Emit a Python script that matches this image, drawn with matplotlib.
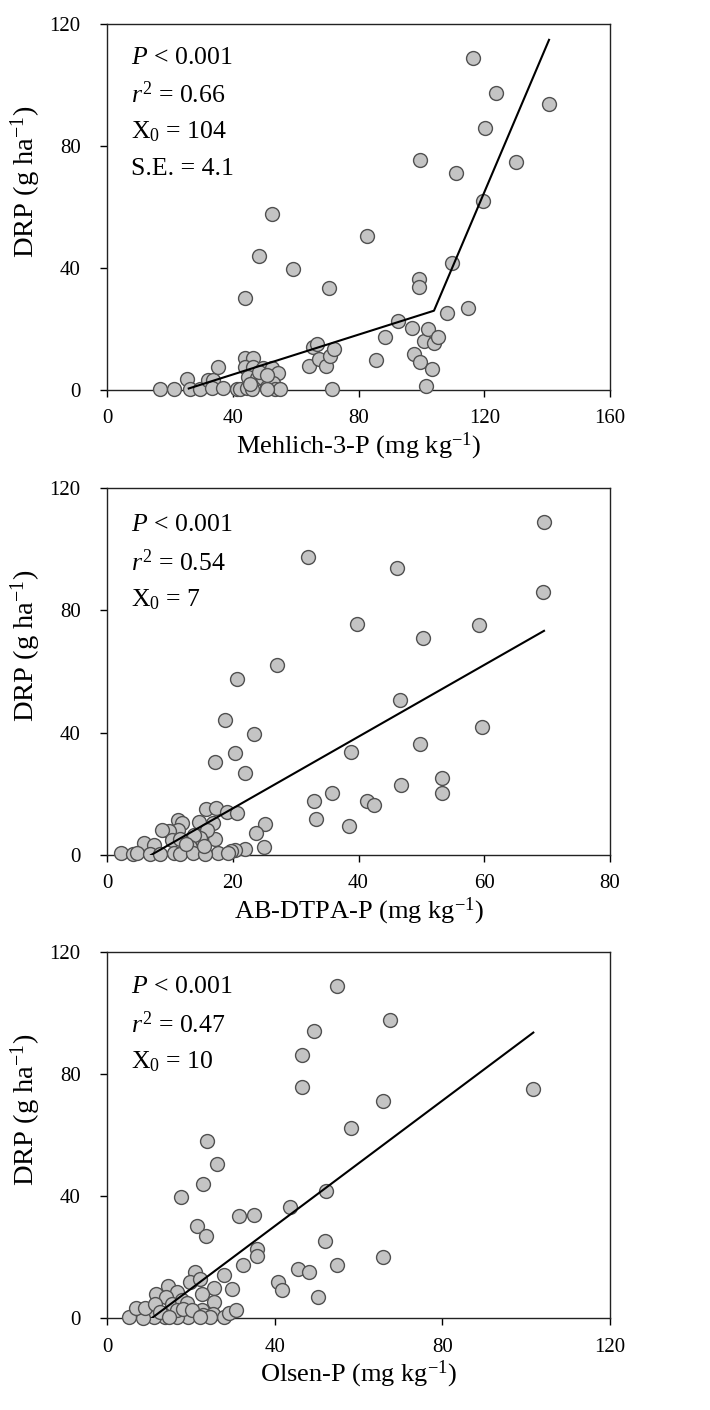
import numpy as np
import matplotlib
matplotlib.use("Agg")
import matplotlib.pyplot as plt

plt.rcParams['font.family'] = ['Liberation Serif', 'DejaVu Serif']
plt.rcParams['mathtext.fontset'] = 'custom'
plt.rcParams['mathtext.rm'] = 'Liberation Serif'
plt.rcParams['mathtext.it'] = 'Liberation Serif:italic'

# --- panel 1: Mehlich-3-P vs DRP ---
m3_x = [17.0, 21.3, 25.5, 26.4, 29.6, 32.2, 33.8, 33.3, 35.4, 36.8, 41.2, 42.3,
        43.9, 46.5, 43.9, 46.5, 49.7, 52.4, 54.5, 44.9, 47.6, 49.7, 50.8, 52.9,
        53.4, 55.0, 44.4, 46.0, 50.8, 45.5, 48.2, 51.0,
        64.1, 65.4, 66.7, 67.4, 69.6, 70.9, 72.3, 71.6, 85.6, 88.4, 92.6, 97.1,
        97.7, 99.7, 100.9, 101.4, 102.2, 103.4, 103.9, 105.3, 108.0, 114.8, 109.7,
        99.3, 99.3, 70.5, 43.9, 59.3, 48.4, 82.8, 52.5, 119.5, 110.9, 99.7, 130.1,
        120.2, 140.6, 123.7, 116.3]
m3_y = [0.2, 0.2, 3.6, 0.2, 0.2, 3.3, 3.3, 0.5, 7.7, 0.5, 0.2, 0.2,
        10.6, 10.4, 7.7, 7.7, 7.1, 7.1, 5.5, 4.4, 3.8, 3.8, 1.1, 2.2,
        0.2, 0.2, 0.5, 0.2, 0.2, 2.0, 5.9, 4.8,
        7.9, 14.0, 15.1, 10.1, 7.9, 11.3, 13.3, 0.3, 9.8, 17.3, 22.7, 20.2,
        11.8, 9.3, 16.1, 1.3, 19.9, 6.8, 15.3, 17.3, 25.1, 26.9, 41.5,
        36.3, 33.7, 33.3, 30.3, 39.7, 44.0, 50.6, 57.7, 62.1, 71.3, 75.4, 74.9,
        85.9, 93.9, 97.3, 108.8]
m3_fit_x = [26.0, 104.0, 140.6]
m3_fit_y = [0.5, 26.0, 114.8]

# --- panel 2: AB-DTPA-P vs DRP ---
ab_x = [69.5, 32.0, 46.2, 69.4, 39.7, 59.2, 50.2, 27.0, 20.7, 46.6, 18.8, 59.6,
        23.4, 38.8, 49.7, 20.4, 17.1, 21.9, 53.2, 46.8, 35.8, 53.2, 33.0, 41.4,
        42.4, 33.3, 38.5, 25.1, 23.7, 25.0, 21.9, 20.4, 19.8, 17.7, 15.7, 17.4,
        19.1, 20.6, 17.1, 16.8, 14.6, 15.9, 14.8, 13.9, 11.3, 12.0, 11.3, 9.8,
        8.7, 10.3, 11.6, 13.2, 5.9, 7.4, 2.3, 4.2, 4.8, 6.8, 8.4, 10.7, 11.6,
        13.7, 15.6, 19.3, 12.6, 15.5]
ab_y = [108.8, 97.3, 93.9, 85.9, 75.5, 75.1, 71.1, 62.2, 57.7, 50.6, 44.1, 41.7,
        39.5, 33.8, 36.2, 33.4, 30.3, 26.9, 25.1, 22.8, 20.4, 20.2, 17.5, 17.7,
        16.4, 11.8, 9.5, 10.0, 7.1, 2.5, 2.0, 1.6, 1.4, 0.8, 15.1, 15.5,
        14.2, 13.6, 5.2, 10.4, 10.7, 8.2, 5.5, 6.5, 11.5, 10.6, 8.2, 7.9,
        8.2, 4.9, 5.1, 2.7, 3.8, 3.3, 0.5, 0.3, 0.5, 0.3, 0.3, 0.5, 0.3,
        0.5, 0.3, 0.5, 3.5, 3.0]
ab_fit_x = [7.0, 69.5]
ab_fit_y = [0.0, 73.3]

# --- panel 3: Olsen-P vs DRP ---
ol_x = [54.9, 67.6, 49.4, 46.6, 46.4, 101.6, 65.9, 58.2, 23.9, 26.2, 22.8, 17.6,
        52.2, 43.7, 21.4, 23.5, 31.6, 35.1, 51.9, 35.7, 35.7, 65.8, 54.9, 45.6,
        48.3, 32.5, 27.9, 40.9, 41.7, 50.3, 20.9, 19.8, 22.2, 25.5, 29.8, 22.7,
        25.6, 22.6, 25.4, 27.8, 29.1, 30.7, 19.4, 16.6, 13.8, 11.1, 8.7, 5.3,
        6.8, 9.1, 11.8, 14.6, 16.6, 14.1, 11.5, 15.4, 17.8, 19.0, 16.6, 18.2,
        12.6, 20.2, 23.0, 24.6, 22.2, 14.9]
ol_y = [109.0, 97.6, 94.2, 86.1, 75.8, 75.1, 71.2, 62.3, 57.9, 50.6, 44.0, 39.6,
        41.6, 36.5, 30.3, 26.9, 33.5, 33.9, 25.2, 22.8, 20.3, 20.0, 17.5, 16.2,
        15.1, 17.5, 14.0, 11.8, 9.3, 6.9, 15.1, 11.8, 12.9, 10.0, 9.6, 7.8,
        5.3, 2.8, 1.4, 0.5, 1.6, 2.5, 0.3, 0.3, 0.3, 0.3, 0.0, 0.3,
        3.3, 3.3, 8.0, 10.4, 8.5, 6.9, 4.7, 4.7, 6.0, 4.9, 2.5, 3.1,
        2.0, 2.5, 0.9, 0.3, 0.3, 0.3]
ol_fit_x = [10.7, 101.7]
ol_fit_y = [0.0, 93.6]

panels = [
    dict(x=m3_x, y=m3_y, fx=m3_fit_x, fy=m3_fit_y, xmax=160, xticks=[0, 40, 80, 120, 160],
         xlabel=r'Mehlich-3-P (mg kg$^{\mathregular{-1}}$)',
         notes=[r'$\it{P}$ < 0.001', r'$\it{r}^{\mathregular{2}}$ = 0.66', r'X$_{\mathregular{0}}$ = 104', 'S.E. = 4.1'],
         rect=[0.1507, 0.7234, 0.7085, 0.2596], ny=[0.907, 0.806, 0.705, 0.604]),
    dict(x=ab_x, y=ab_y, fx=ab_fit_x, fy=ab_fit_y, xmax=80, xticks=[0, 20, 40, 60, 80],
         xlabel=r'AB-DTPA-P (mg kg$^{\mathregular{-1}}$)',
         notes=[r'$\it{P}$ < 0.001', r'$\it{r}^{\mathregular{2}}$ = 0.54', r'X$_{\mathregular{0}}$ = 7'],
         rect=[0.1507, 0.3936, 0.7085, 0.2603], ny=[0.899, 0.796, 0.695]),
    dict(x=ol_x, y=ol_y, fx=ol_fit_x, fy=ol_fit_y, xmax=120, xticks=[0, 40, 80, 120],
         xlabel=r'Olsen-P (mg kg$^{\mathregular{-1}}$)',
         notes=[r'$\it{P}$ < 0.001', r'$\it{r}^{\mathregular{2}}$ = 0.47', r'X$_{\mathregular{0}}$ = 10'],
         rect=[0.1507, 0.0652, 0.7085, 0.2596], ny=[0.904, 0.801, 0.700]),
]

fig = plt.figure(figsize=(7.1, 14.1), dpi=100)

for p in panels:
    ax = fig.add_axes(p['rect'])
    ax.scatter(p['x'], p['y'], s=100, facecolor='#c4c4c4', edgecolor='#505050',
               linewidth=1.0, zorder=3, clip_on=False)
    ax.plot(p['fx'], p['fy'], color='black', lw=1.5, zorder=4)
    ax.set_xlim(0, p['xmax'])
    ax.set_ylim(0, 120)
    ax.set_xticks(p['xticks'])
    ax.set_yticks([0, 40, 80, 120])
    ax.tick_params(axis='both', direction='out', length=5, width=1, labelsize=15)
    ax.tick_params(axis='y', pad=14)
    ax.tick_params(axis='x', pad=9)
    for s in ax.spines.values():
        s.set_linewidth(1.0)
        s.set_color('#222222')
    ax.set_xlabel(p['xlabel'], fontsize=19)
    ax.xaxis.set_label_coords(0.5, -0.112)
    ax.set_ylabel(r'DRP (g ha$^{\mathregular{-1}}$)', fontsize=20.5)
    ax.yaxis.set_label_coords(-0.128, 0.57)
    for txt, yy in zip(p['notes'], p['ny']):
        ax.text(0.048, yy, txt, transform=ax.transAxes, fontsize=18.5,
                ha='left', va='center')

fig.savefig('out.png', dpi=100)
